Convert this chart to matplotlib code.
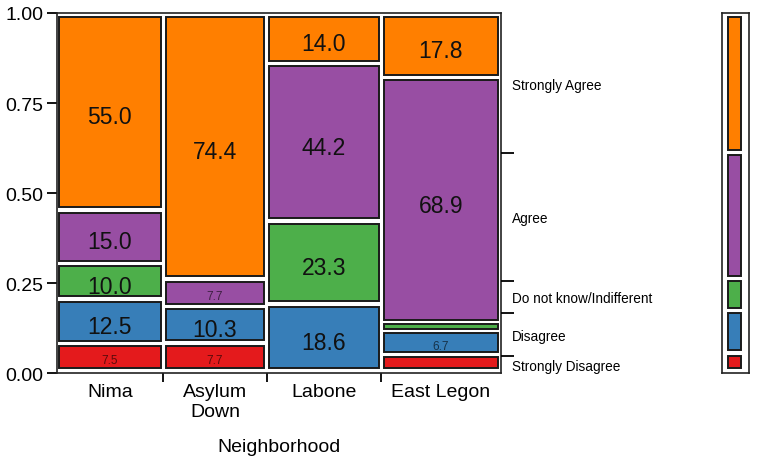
import matplotlib.pyplot as plt
from matplotlib.patches import Rectangle

plt.rcParams['font.family'] = ['Liberation Sans', 'DejaVu Sans']

# counts per neighborhood, bottom to top response order
neighborhoods = ['Nima', 'Asylum\nDown', 'Labone', 'East Legon']
responses = ['Strongly Disagree', 'Disagree', 'Do not know/Indifferent', 'Agree', 'Strongly Agree']
colors = ['#e41a1c', '#377eb8', '#4daf4a', '#984ea3', '#ff7f00']
nima = [3, 5, 4, 6, 22]
asylum_down = [3, 4, 0, 3, 29]
labone = [0, 8, 10, 19, 6]
east_legon = [2, 3, 1, 31, 8]
table = [nima, asylum_down, labone, east_legon]

W, H = 763, 460
fig = plt.figure(figsize=(W / 100, H / 100), dpi=100)
ax_l, ax_b, ax_w, ax_h = 56.7, 374.3, 444, 360.3
ax = fig.add_axes([ax_l / W, 1 - ax_b / H, ax_w / W, ax_h / H])
ax.set_xlim(0, 1)
ax.set_ylim(0, 1)

gx = 5 / ax_w     # gap between columns
gy = 5.5 / ax_h   # gap between cells
pb, pt = 3 / ax_h, 1 / ax_h   # padding of the cell area inside the frame
min_h = 5 / ax_h
edge = '#1a1a1a'


def ymap(v):
    return pb + v * (1 - pb - pt)


def cell(a, x0, x1, y0, y1, color):
    lo, hi = ymap(y0) + gy / 2, ymap(y1) - gy / 2
    if hi - lo < min_h:
        mid = (lo + hi) / 2
        lo, hi = mid - min_h / 2, mid + min_h / 2
    a.add_patch(Rectangle((x0, lo), x1 - x0, hi - lo,
                          facecolor=color, edgecolor=edge, linewidth=1.4))


total = sum(sum(c) for c in table)
x0 = 0
bounds = [0]
centers = []
for col in table:
    n = sum(col)
    x1 = x0 + n / total
    y0 = 0
    for i, cnt in enumerate(col):
        if cnt == 0:
            continue
        y1 = y0 + cnt / n
        cell(ax, x0 + gx / 2, x1 - gx / 2, y0, y1, colors[i])
        pct = 100 * cnt / n
        ym = (ymap(y0) + ymap(y1)) / 2
        if pct >= 10:
            ax.text((x0 + x1) / 2, ym - 5 / ax_h, f'{pct:.1f}', ha='center', va='center',
                    fontsize=16.5, color='#111111')
        elif pct >= 5:
            ax.text((x0 + x1) / 2, ym - 3 / ax_h, f'{pct:.1f}', ha='center', va='center',
                    fontsize=8.5, color='black', alpha=0.6)
        y0 = y1
    centers.append((x0 + x1) / 2)
    x0 = x1
    bounds.append(x0)

for s in ax.spines.values():
    s.set_color('#222222')
    s.set_linewidth(1.2)

ax.set_yticks([0, 0.25, 0.5, 0.75, 1.0], ['0.00', '0.25', '0.50', '0.75', '1.00'])
ax.tick_params(axis='y', length=7.5, width=1.3, pad=2, labelsize=14)
ax.set_xticks(bounds[1:-1], [''] * (len(bounds) - 2))
ax.set_xticks(centers, neighborhoods, minor=True)
ax.tick_params(axis='x', which='major', length=6.5, width=1.3)
ax.tick_params(axis='x', which='minor', length=0, pad=7, labelsize=14)

fig.text(278.7 / W, 1 - 448 / H, 'Neighborhood', ha='center', va='center', fontsize=14)

# marginal distribution (right side ticks, labels and bar)
marg = [sum(col[i] for col in table) / total for i in range(len(responses))]
cum = [0]
for m in marg:
    cum.append(cum[-1] + m)
mids = [(cum[i] + cum[i + 1]) / 2 for i in range(len(marg))]

tw = ax.twinx()
tw.set_ylim(0, 1)
tw.set_yticks(cum[1:-1], [''] * (len(cum) - 2))
tw.set_yticks(mids, responses, minor=True)
tw.tick_params(axis='y', which='major', length=9, width=1.3)
tw.tick_params(axis='y', which='minor', length=0, pad=8, labelsize=9.8)
for s in tw.spines.values():
    s.set_visible(False)

bx = fig.add_axes([722.3 / W, 1 - ax_b / H, 26.4 / W, ax_h / H])
bx.set_xlim(0, 1)
bx.set_ylim(0, 1)
for i, m in enumerate(marg):
    cell(bx, 0.22, 0.72, cum[i], cum[i + 1], colors[i])
bx.set_xticks([])
bx.set_yticks([])
for s in bx.spines.values():
    s.set_color('#222222')
    s.set_linewidth(1.2)

fig.savefig('out.png', dpi=100)
